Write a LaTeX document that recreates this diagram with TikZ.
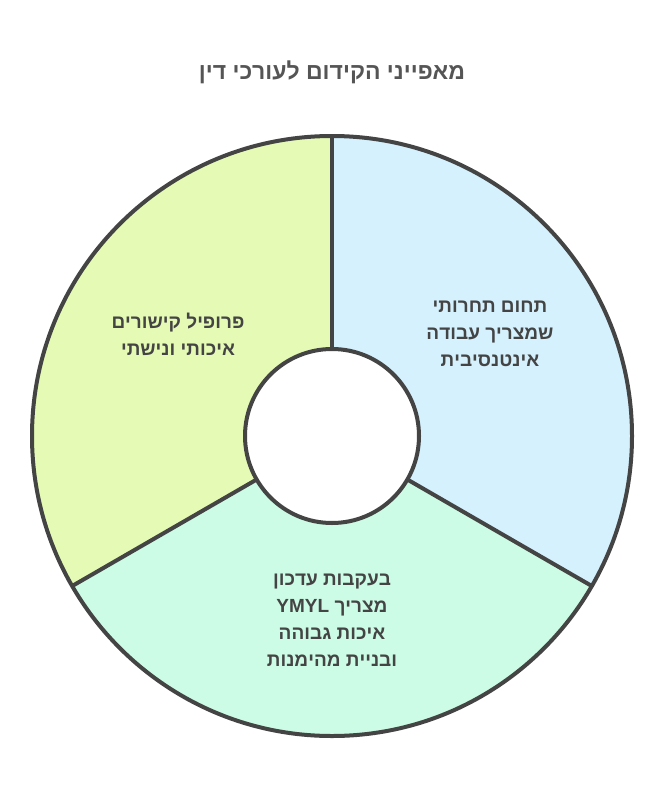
\documentclass[tikz,border=0pt]{standalone}
\usepackage{fontspec}
\setmainfont{Liberation Sans}
\TeXXeTstate=1
\newcommand{\rl}[1]{\beginR #1\endR}
\definecolor{cblue}{HTML}{D4F1FD}
\definecolor{cgreen}{HTML}{CCFCE5}
\definecolor{cyel}{HTML}{E5FBB5}
\definecolor{edge}{HTML}{444444}
\definecolor{titlec}{HTML}{555555}
\begin{document}
\begin{tikzpicture}[x=1pt,y=-1pt,
  lbl/.style={font=\bfseries\fontsize{19}{27}\selectfont, text=edge, align=center},
  sect/.style={draw=edge, line width=4pt, line join=round}]
\useasboundingbox (0,0) rectangle (665,800);
\coordinate (c) at (332,436);
\fill[cblue] (c) -- ++(0,-300) arc[start angle=-90,end angle=30,radius=300] -- cycle;
\fill[cgreen] (c) -- ++(30:300) arc[start angle=30,end angle=150,radius=300] -- cycle;
\fill[cyel] (c) -- ++(150:300) arc[start angle=150,end angle=270,radius=300] -- cycle;
\draw[sect] (c) circle[radius=300];
\draw[sect] (c) -- ++(0,-300);
\draw[sect] (c) -- ++(30:300);
\draw[sect] (c) -- ++(150:300);
\draw[sect, fill=white] (c) circle[radius=87];
\node (title) at (332,72) {\bfseries\fontsize{23}{26}\selectfont\color{titlec}\rl{מאפייני הקידום לעורכי דין}};
\node[lbl] (r) at (490,334) {\rl{תחום תחרותי}\\\rl{שמצריך עבודה}\\\rl{אינטנסיבית}};
\node[lbl] (b) at (332,620) {\rl{בעקבות עדכון}\\\rl{מצריך \beginL YMYL\endL}\\\rl{איכות גבוהה}\\\rl{ובניית מהימנות}};
\node[lbl] (l) at (178,334) {\rl{פרופיל קישורים}\\\rl{איכותי ונישתי}};
\end{tikzpicture}
\end{document}
